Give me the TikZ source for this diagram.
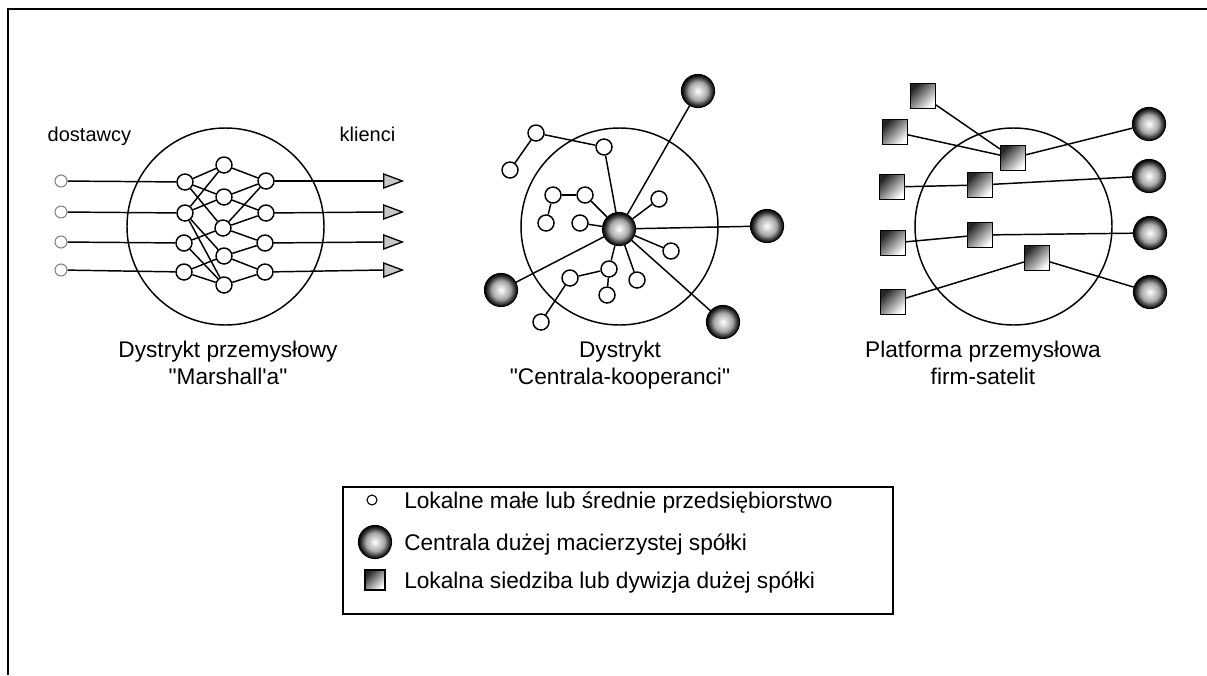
\documentclass[tikz,border=0pt]{standalone}
\usepackage{fontspec}
\setmainfont{Liberation Sans}[Ligatures=TeXOff]
\usetikzlibrary{shapes.geometric,patterns}

\colorlet{kulaJasny}{gray!20}
\colorlet{kulaSredni}{gray!70}
\colorlet{kulaCiemny}{black!80}
\pgfdeclareradialshading{kula}{\pgfpoint{0bp}{0bp}}{color(0bp)=(white); color(4bp)=(kulaJasny); color(14bp)=(kulaSredni); color(21bp)=(kulaCiemny); color(25bp)=(black); color(50bp)=(black)}

\tikzset{
  msp/.style={circle, draw, fill=white, line width=1.1pt, minimum size=12pt, inner sep=0pt},
  dostawca/.style={circle, draw=gray, fill=white, line width=0.8pt, minimum size=9pt, inner sep=0pt},
  centrala/.style={circle, draw=black, line width=0.6pt, shading=kula, minimum size=25pt, inner sep=0pt},
  siedziba/.style={rectangle, draw, line width=1.1pt, top color=black!85, bottom color=white, shading angle=45, minimum size=18.5pt, inner sep=0pt},
  klient/.style={isosceles triangle, isosceles triangle stretches, draw, line width=1pt, fill=gray!45, minimum height=14pt, minimum width=10.5pt, inner sep=0pt},
  polaczenie/.style={line width=1.1pt},
  podpis/.style={align=center, font=\fontsize{17}{20}\selectfont, inner sep=0.75pt},
  legenda/.style={font=\fontsize{17}{20}\selectfont, inner sep=0.75pt},
}

\begin{document}
\begin{tikzpicture}[x=0.75pt,y=0.75pt,yscale=-1,xscale=1]
\useasboundingbox (0,0) rectangle (1207,675);

%Frame
\draw [line width=1.5pt] (8,675) -- (8,9) -- (1207,9) ;

%Shape: Circle
\draw [line width=1.1pt] (225.5,226.5) circle (98.5) ;
%Shape: Circle
\draw [line width=1.1pt] (619.5,226.5) circle (98.5) ;
%Shape: Circle
\draw [line width=1.1pt] (1013.5,226.5) circle (98.5) ;

%% Marshall district
% suppliers
\node [dostawca] (d1) at (61,181) {};
\node [dostawca] (d2) at (61,212) {};
\node [dostawca] (d3) at (61,242) {};
\node [dostawca] (d4) at (61,270) {};
% first column
\node [msp] (a1) at (185,182) {};
\node [msp] (a2) at (185,213) {};
\node [msp] (a3) at (184,243) {};
\node [msp] (a4) at (184,272) {};
% middle column
\node [msp] (b1) at (224,165) {};
\node [msp] (b2) at (224,197) {};
\node [msp] (b3) at (223,228) {};
\node [msp] (b4) at (224,256) {};
\node [msp] (b5) at (224,285) {};
% last column
\node [msp] (c1) at (266,181) {};
\node [msp] (c2) at (266,213) {};
\node [msp] (c3) at (265,243) {};
\node [msp] (c4) at (265,272) {};
% clients
\node [klient, anchor=west] (k1) at (383,181) {};
\node [klient, anchor=west] (k2) at (383,212) {};
\node [klient, anchor=west] (k3) at (383,242) {};
\node [klient, anchor=west] (k4) at (383,270) {};

\foreach \i in {1,...,4} {
  \draw [polaczenie] (d\i) -- (a\i) ;
  \draw [polaczenie] (c\i) -- (k\i.west) ;
}
\foreach \p/\q in {a1/b1, a1/b2, a1/b3, a2/b1, a2/b2, a2/b4, a2/b5, a3/b3, a3/b5, a4/b4, a4/b5,
                   b1/c1, b2/c1, b2/c2, b3/c1, b3/c2, b3/c3, b4/c3, b4/c4, b5/c4}
  \draw [polaczenie] (\p) -- (\q) ;

%% Head office and co-operators
\node [centrala] (cc) at (619,229) {};
\node [centrala] (g1) at (698,91) {};
\node [centrala] (g2) at (767,226) {};
\node [centrala] (g3) at (501,290) {};
\node [centrala] (g4) at (723,322) {};
\node [msp] (m1) at (536,133) {};
\node [msp] (m2) at (510,170) {};
\node [msp] (m3) at (604,147) {};
\node [msp] (m4) at (553,195) {};
\node [msp] (m5) at (585,195) {};
\node [msp] (m6) at (546,223) {};
\node [msp] (m7) at (580,223) {};
\node [msp] (m8) at (659,199) {};
\node [msp] (m9) at (671,251) {};
\node [msp] (m10) at (609,269) {};
\node [msp] (m11) at (570,278) {};
\node [msp] (m12) at (607,295) {};
\node [msp] (m13) at (637,280) {};
\node [msp] (m14) at (541,322) {};

\foreach \p/\q in {m1/m2, m1/m3, m3/cc, m4/m5, m4/m6, m5/cc, m7/cc, m8/cc, m9/cc,
                   m10/cc, m10/m11, m10/m12, m11/m14, m13/cc, g1/cc, g2/cc, g3/cc, g4/cc}
  \draw [polaczenie] (\p) -- (\q) ;

%% Satellite platform
\node [siedziba] (q1) at (923,96) {};
\node [siedziba] (q2) at (895,132) {};
\node [siedziba] (q3) at (892,187) {};
\node [siedziba] (q4) at (893,243) {};
\node [siedziba] (q5) at (893,302) {};
\node [siedziba] (r1) at (1013,158) {};
\node [siedziba] (r2) at (980,185) {};
\node [siedziba] (r3) at (980,235) {};
\node [siedziba] (r4) at (1037,258) {};
\node [centrala] (p1) at (1149,124) {};
\node [centrala] (p2) at (1149,176) {};
\node [centrala] (p3) at (1150,233) {};
\node [centrala] (p4) at (1150,292) {};

\foreach \p/\q in {q1/r1, q2/r1, r1/p1, q3/r2, r2/p2, q4/r3, r3/p3, q5/r4, r4/p4}
  \draw [polaczenie] (\p) -- (\q) ;

% Text Node
\node [font=\fontsize{15}{18}\selectfont, anchor=base west] (tdost) at (43,141) {dostawcy};
% Text Node
\node [font=\fontsize{15}{18}\selectfont, anchor=base east] (tkli) at (400,141) {klienci};
% Text Node
\node [podpis, anchor=north] (t1) at (228,340) {Dystrykt przemysłowy\\"Marshall'a"};
% Text Node
\node [podpis, anchor=north] (t2) at (620,340) {Dystrykt\\"Centrala-kooperanci"};
% Text Node
\node [podpis, anchor=north] (t3) at (983,340) {Platforma przemysłowa\\firm-satelit};

%% Legend
\draw [line width=1pt] (343,487) rectangle (893,614) ;
\node [msp, line width=0.8pt, minimum size=7.5pt] (l1) at (372,500) {};
\node [centrala] (l2) at (375,542) {};
\node [siedziba, minimum size=15pt] (l3) at (375,580) {};
\node [legenda, anchor=base west] (tl1) at (403,508) {Lokalne małe lub średnie przedsiębiorstwo};
\node [legenda, anchor=base west] (tl2) at (403,550) {Centrala dużej macierzystej spółki};
\node [legenda, anchor=base west] (tl3) at (403,588) {Lokalna siedziba lub dywizja dużej spółki};

\end{tikzpicture}
\end{document}
